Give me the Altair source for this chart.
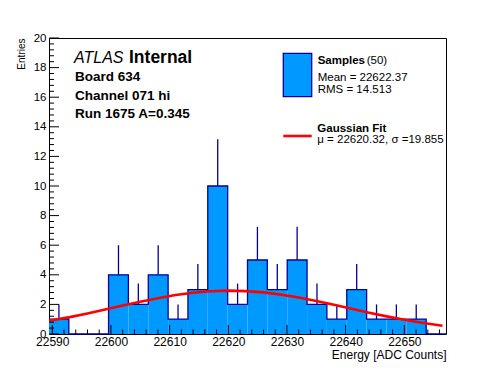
import altair as alt
import pandas as pd
import numpy as np

# ---- data ----
bin_lo = [22589.44, 22592.82, 22596.21, 22599.59, 22602.97, 22606.36, 22609.74,
          22613.12, 22616.50, 22619.89, 22623.27, 22626.65, 22630.04, 22633.42,
          22636.80, 22640.19, 22643.57, 22646.95, 22650.33, 22653.72]
bin_hi = [22592.82, 22596.21, 22599.59, 22602.97, 22606.36, 22609.74, 22613.12,
          22616.50, 22619.89, 22623.27, 22626.65, 22630.04, 22633.42, 22636.80,
          22640.19, 22643.57, 22646.95, 22650.33, 22653.72, 22657.10]
counts = [1, 0, 0, 4, 2, 4, 1, 3, 10, 2, 5, 3, 5, 2, 1, 3, 1, 1, 1, 0]
err_top = [2, 0, 0, 6, 3.41, 6, 2, 4.73, 13.16, 3.41, 7.24, 4.73, 7.24, 3.41,
           2, 4.73, 2, 2, 2, 0]

fit_x = [22589.44, 22593, 22596, 22599, 22602, 22605, 22608, 22611, 22614, 22617,
         22620, 22623, 22626, 22629, 22632, 22635, 22638, 22641, 22644, 22647,
         22650, 22653, 22656.5]
fit_y = [0.89, 1.14, 1.39, 1.65, 1.92, 2.18, 2.42, 2.63, 2.79, 2.89, 2.93, 2.90,
         2.81, 2.66, 2.46, 2.23, 1.97, 1.70, 1.44, 1.19, 0.96, 0.76, 0.56]

x_major = [22590, 22600, 22610, 22620, 22630, 22640, 22650]
y_major = [0, 2, 4, 6, 8, 10, 12, 14, 16, 18, 20]

X_DOMAIN = [22589.44, 22657.10]
Y_DOMAIN = [0, 20]
W, H = 397, 296
FILL = "#0099ff"
LINE = "#000099"
FONT = "Liberation Sans"

x_minor = [v for v in np.arange(22590, 22657, 2).tolist() if v % 10 != 0]
y_minor = [round(v, 1) for v in np.arange(0, 20.01, 0.4).tolist()
           if abs(round(v, 1) / 2 - round(round(v, 1) / 2)) > 1e-6]

hist = pd.DataFrame({"lo": bin_lo, "hi": bin_hi, "n": counts, "etop": err_top})
hist["c"] = (hist["lo"] + hist["hi"]) / 2
step = pd.DataFrame({"x": bin_lo + [bin_hi[-1]], "y": counts + [0]})
fit = pd.DataFrame({"x": fit_x, "y": fit_y})

xs = alt.Scale(domain=X_DOMAIN, nice=False, zero=False)
ys = alt.Scale(domain=Y_DOMAIN, nice=False, zero=False)

xaxis = alt.Axis(values=x_major, format="d", ticks=False, domain=False, grid=False,
                 labelFont=FONT, labelFontSize=12, labelColor="black", labelPadding=2,
                 labelOverlap=False, labelFlush=False,
                 title="Energy [ADC Counts]", titleFont=FONT, titleFontSize=12,
                 titleFontWeight="normal", titleColor="black", titleAlign="right",
                 titleBaseline="alphabetic", titleX=W, titleY=24)
yaxis = alt.Axis(values=y_major, format="d", ticks=False, domain=False, grid=False,
                 labelFont=FONT, labelFontSize=11.5, labelColor="black", labelPadding=3,
                 labelOverlap=False, labelFlush=False,
                 title="Entries", titleFont=FONT, titleFontSize=10,
                 titleFontWeight="normal", titleColor="black", titleAngle=270,
                 titleAlign="right", titleBaseline="alphabetic", titleX=-25, titleY=0)


def X(f):
    return alt.X(f, scale=xs, axis=xaxis, title="Energy [ADC Counts]")


def Y(f):
    return alt.Y(f, scale=ys, axis=yaxis, title="Entries")


bars = alt.Chart(hist).mark_rect(fill=FILL, strokeWidth=0).encode(
    x=X("lo:Q"), x2="hi:Q", y=Y("n:Q"), y2=alt.datum(0))

contour = alt.Chart(step).mark_line(interpolate="step-after", color=LINE,
                                    strokeWidth=1.3).encode(x=X("x:Q"), y=Y("y:Q"))

errs = alt.Chart(hist).transform_filter("datum.n > 0").mark_rule(
    color=LINE, strokeWidth=1.3).encode(x=X("c:Q"), y=Y("n:Q"), y2="etop:Q")

curve = alt.Chart(fit).mark_line(color="#ff0000", strokeWidth=2.6).encode(
    x=X("x:Q"), y=Y("y:Q"))

xt_maj = alt.Chart(pd.DataFrame({"v": x_major})).mark_rule(color="black", strokeWidth=1).encode(
    x=X("v:Q"), y=alt.value(H), y2=alt.value(H - 9))
xt_min = alt.Chart(pd.DataFrame({"v": x_minor})).mark_rule(color="black", strokeWidth=1).encode(
    x=X("v:Q"), y=alt.value(H), y2=alt.value(H - 4.5))
yt_maj = alt.Chart(pd.DataFrame({"v": y_major})).mark_rule(color="black", strokeWidth=1).encode(
    y=Y("v:Q"), x=alt.value(0), x2=alt.value(10))
yt_min = alt.Chart(pd.DataFrame({"v": y_minor})).mark_rule(color="black", strokeWidth=1).encode(
    y=Y("v:Q"), x=alt.value(0), x2=alt.value(5))


def txt(s, x, y, size, weight="normal", style="normal"):
    return alt.Chart(pd.DataFrame({"t": [s]})).mark_text(
        align="left", baseline="alphabetic", font=FONT, fontSize=size,
        fontWeight=weight, fontStyle=style, color="black").encode(
        text="t:N", x=alt.value(x), y=alt.value(y))


texts = [
    txt("ATLAS", 25, 24.7, 16, style="italic"),
    txt("Internal", 80, 24.7, 17.5, weight="bold"),
    txt("Board 634", 26, 43.4, 13.5, weight="bold"),
    txt("Channel 071 hi", 26, 61.8, 13.5, weight="bold"),
    txt("Run 1675 A=0.345", 26, 80.2, 13.5, weight="bold"),
    txt("Samples", 268.7, 26.3, 11.5, weight="bold"),
    txt("(50)", 317.7, 26.3, 11.5),
    txt("Mean = 22622.37", 268.7, 43, 11.5),
    txt("RMS = 14.513", 268.7, 54.7, 11.5),
    txt("Gaussian Fit", 268.3, 94.3, 11.5, weight="bold"),
    txt("\u03bc = 22620.32, \u03c3 =19.855", 268.3, 105, 11.5),
]

leg_box = alt.Chart(pd.DataFrame({"k": [0]})).mark_rect(
    fill=FILL, stroke=LINE, strokeWidth=1.3).encode(
    x=alt.value(234.3), x2=alt.value(262.7), y=alt.value(15.3), y2=alt.value(58.7))
leg_line = alt.Chart(pd.DataFrame({"k": [0]})).mark_rule(
    color="#ff0000", strokeWidth=2.6).encode(
    x=alt.value(234.3), x2=alt.value(262.7), y=alt.value(98))

chart = alt.layer(
    bars, contour, errs, curve, xt_maj, xt_min, yt_maj, yt_min, leg_box, leg_line, *texts
).properties(
    width=W, height=H,
    padding={"left": 41, "top": 30, "right": 35, "bottom": 30},
    autosize=alt.AutoSizeParams(type="none"),
    background="white",
).configure_view(stroke="black", strokeWidth=1)

chart.save("out.html", embed_options={"renderer": "svg", "actions": False})
